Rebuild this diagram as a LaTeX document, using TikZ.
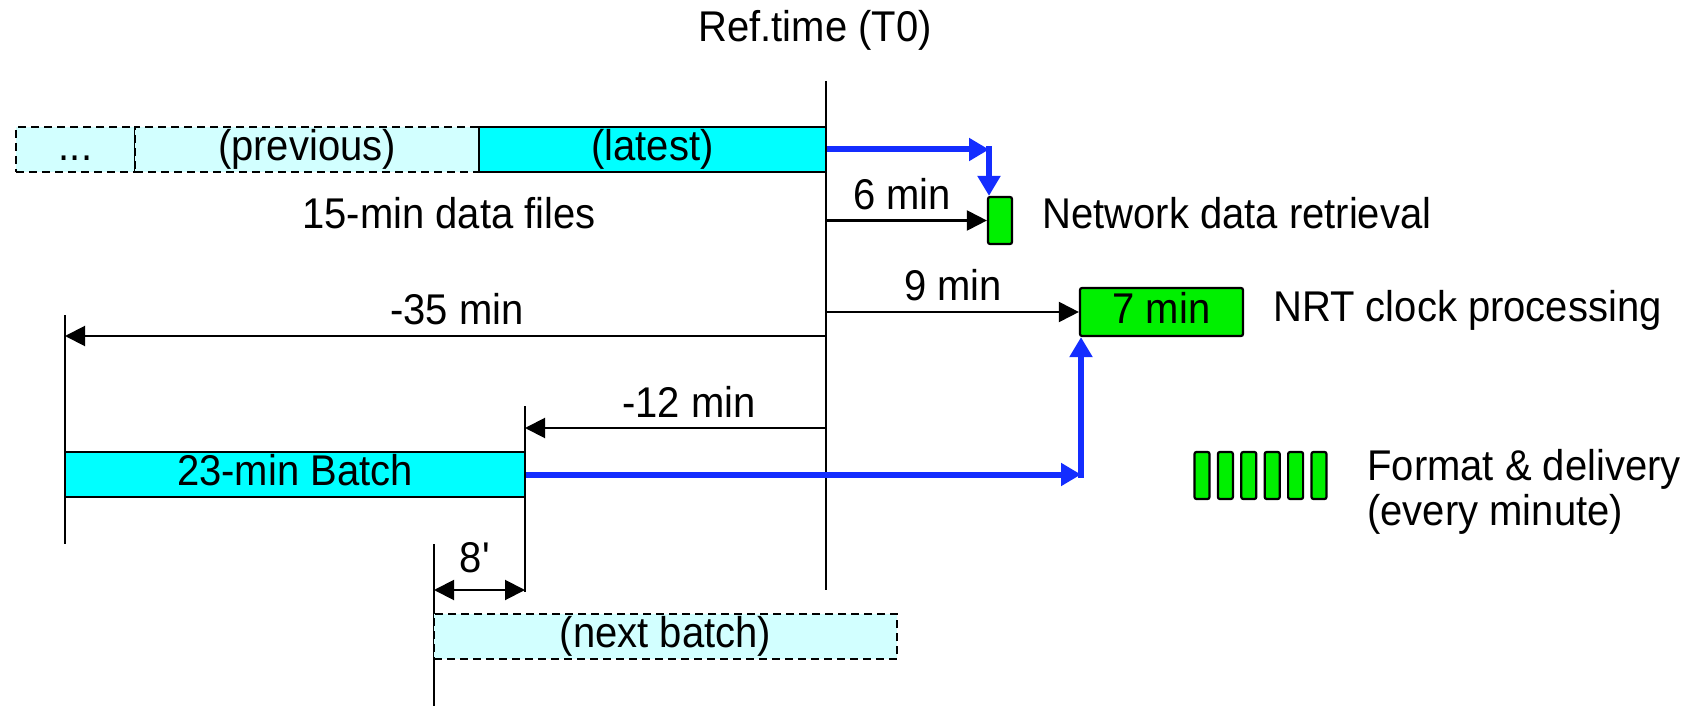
\documentclass[tikz,border=0pt]{standalone}
\usepackage{fontspec}
\setmainfont[FakeStretch=0.93]{Liberation Sans}
\usetikzlibrary{arrows.meta}

\definecolor{filecyan}{RGB}{0,255,255}
\definecolor{palecyan}{RGB}{210,255,255}
\definecolor{procgreen}{RGB}{0,240,0}
\definecolor{flowblue}{RGB}{20,45,255}

\tikzset{
  box/.style={draw, line width=1.1pt, inner sep=0pt, minimum height=22.5pt,
    text height=15.6pt, text depth=4.6pt},
  oldbox/.style={box, fill=palecyan, dash pattern=on 4pt off 2.5pt},
  newbox/.style={box, fill=filecyan},
  procbox/.style={box, fill=procgreen, rounded corners=1pt},
  timeline/.style={line width=1pt},
  span/.style={line width=1pt, -{Triangle[length=10pt,width=10pt]}},
  gap/.style={line width=1pt, {Triangle[length=10pt,width=10pt]}-{Triangle[length=10pt,width=10pt]}},
  flow/.style={draw=flowblue, line width=3pt, -{Triangle[length=10pt,width=11pt]}},
}

\begin{document}
\begin{tikzpicture}[x=0.5pt, y=-0.5pt, font=\fontsize{21.5pt}{22.5pt}\selectfont,
  every node/.append style={inner sep=0pt}]
\useasboundingbox (0,0) rectangle (1688,706);

\node (reftime) at (815,30) {Ref.time (T0)};
\coordinate (t0top) at (826,81);
\coordinate (t0bot) at (826,590);
\draw[timeline] (t0top) -- (t0bot);

% 15-min files
\node[oldbox, minimum width=59.5pt] (dots) at (75.5,149.5) {...};
\node[oldbox, minimum width=172pt] (previous) at (307,149.5) {(previous)};
\node[newbox, minimum width=173.5pt] (latest) at (652.5,149.5) {(latest)};
\node (files) at (449,213) {15-min data files};

% network retrieval
\node[procbox, minimum width=12pt, minimum height=23.5pt] (net) at (1000,220.5) {};
\node[right] (nettext) at (1042,213) {Network data retrieval};
\node (six) at (902,194) {6 min};
\draw[span] (t0top |- net.west) -- (net.west);
\coordinate (bendtop) at (989,149.5);
\draw[flow] (latest.east) -- (bendtop);
\draw[flow, line cap=rect] (bendtop) -- (bendtop |- net.north);

% processing
\node[procbox, minimum width=81.5pt, minimum height=24pt] (nrt) at (1161.5,312) {7 min};
\node[right] (nrttext) at (1273,310) {NRT clock processing};
\node (nine) at (953,285) {9 min};
\draw[span] (t0top |- nrt.west) -- (nrt.west);

% batch window
\coordinate (lefttop) at (65,315);
\coordinate (leftbot) at (65,544);
\draw[timeline] (lefttop) -- (leftbot);
\coordinate (far) at (65,336);
\draw[span] (t0top |- far) -- (far);
\node (thirtyfive) at (457,309) {-35 min};

\coordinate (midtop) at (525,406);
\coordinate (midbot) at (525,592);
\draw[timeline] (midtop) -- (midbot);
\coordinate (near) at (525,428);
\draw[span] (t0top |- near) -- (near);
\node (twelve) at (689,402) {-12 min};

\node[newbox, minimum width=230pt] (batch) at (295,474.5) {23-min Batch};
\coordinate (bendlow) at (1081,474.5);
\draw[flow] (batch.east) -- (bendlow);
\draw[flow, line cap=rect] (bendlow) -- (bendlow |- nrt.south);

% delivery
\foreach \i in {0,...,5}
  \node[procbox, minimum width=7.5pt, minimum height=23.5pt] (bar\i) at (1202+23.4*\i,475.5) {};
\node[right, align=left] (format) at (1367,492) {Format \& delivery\\(every minute)};

% next batch
\coordinate (nexttop) at (434,544);
\coordinate (nextbot) at (434,706);
\draw[timeline] (nexttop) -- (nextbot);
\coordinate (gapl) at (434,590);
\coordinate (gapr) at (525,590);
\draw[gap] (gapl) -- (gapr);
\node (eight) at (475,558) {8\textquotesingle};
\node[oldbox, minimum width=231.5pt] (next) at (665.5,636.5) {(next batch)};
\end{tikzpicture}
\end{document}
